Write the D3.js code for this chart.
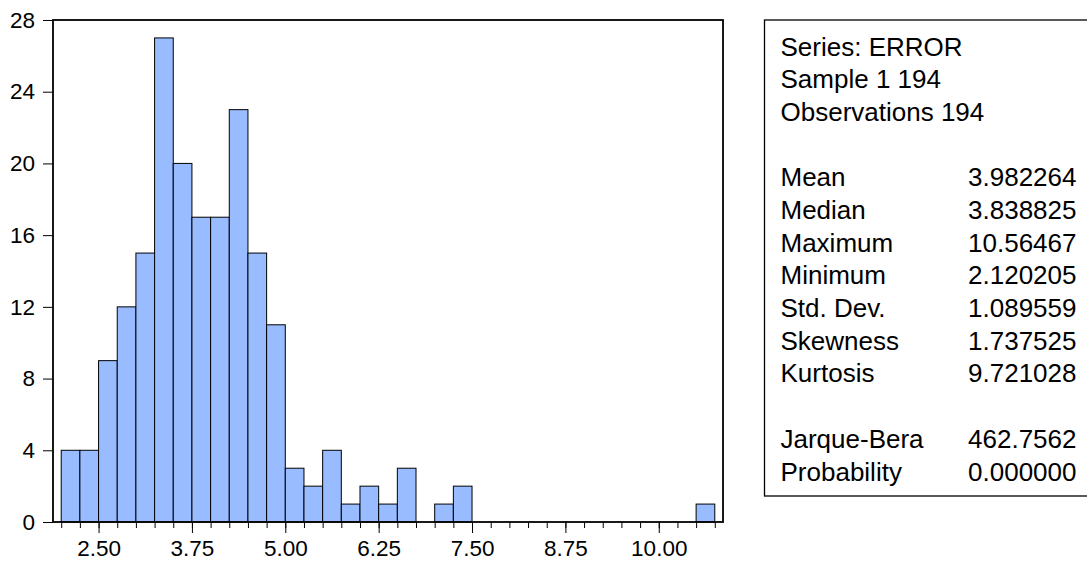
<!DOCTYPE html>
<html>
<head>
<meta charset="utf-8">
<script src="https://cdn.jsdelivr.net/npm/d3@7"></script>
<style>
  html, body { margin: 0; padding: 0; background: #fff; }
  svg { display: block; font-family: "Liberation Sans", Arial, sans-serif; }
</style>
</head>
<body>
<div id="chart"></div>
<script>
// histogram bins (lower edge, width 0.25) and counts
var binLower = [2.00, 2.25, 2.50, 2.75, 3.00, 3.25, 3.50, 3.75, 4.00, 4.25, 4.50, 4.75,
  5.00, 5.25, 5.50, 5.75, 6.00, 6.25, 6.50, 6.75, 7.00, 7.25, 7.50, 7.75, 8.00, 8.25,
  8.50, 8.75, 9.00, 9.25, 9.50, 9.75, 10.00, 10.25, 10.50];
var binCounts = [4, 4, 9, 12, 15, 27, 20, 17, 17, 23, 15, 11,
  3, 2, 4, 1, 2, 1, 3, 0, 1, 2, 0, 0, 0, 0,
  0, 0, 0, 0, 0, 0, 0, 0, 1];
var binWidth = 0.25;

var minorTicks = [2.00, 2.25, 2.50, 2.75, 3.00, 3.25, 3.50, 3.75, 4.00, 4.25, 4.50, 4.75,
  5.00, 5.25, 5.50, 5.75, 6.00, 6.25, 6.50, 6.75, 7.00, 7.25, 7.50, 7.75, 8.00, 8.25,
  8.50, 8.75, 9.00, 9.25, 9.50, 9.75, 10.00, 10.25, 10.50, 10.75];
var majorTicks = [2.50, 3.75, 5.00, 6.25, 7.50, 8.75, 10.00];
var yTicks = [0, 4, 8, 12, 16, 20, 24, 28];

var statLabels = ['Series: ERROR', 'Sample 1 194', 'Observations 194', '',
  'Mean', 'Median', 'Maximum', 'Minimum', 'Std. Dev.', 'Skewness', 'Kurtosis', '',
  'Jarque-Bera', 'Probability'];
var statValues = ['', '', '', '',
  '3.982264', '3.838825', '10.56467', '2.120205', '1.089559', '1.737525', '9.721028', '',
  '462.7562', '0.000000'];

var W = 1087, H = 563;
var plot = { left: 53, top: 20, right: 723, bottom: 522 };

var svg = d3.select('#chart').append('svg')
  .attr('width', W).attr('height', H);

var x = d3.scaleLinear().domain([1.89, 10.86]).range([plot.left, plot.right]);
var y = d3.scaleLinear().domain([0, 28]).range([plot.bottom, plot.top]);

var bins = binLower.map(function (b, i) { return { x0: b, x1: b + binWidth, n: binCounts[i] }; })
  .filter(function (d) { return d.n > 0; });

svg.append('g').selectAll('rect').data(bins).enter().append('rect')
  .attr('x', function (d) { return x(d.x0); })
  .attr('y', function (d) { return y(d.n); })
  .attr('width', function (d) { return x(d.x1) - x(d.x0); })
  .attr('height', function (d) { return y(0) - y(d.n); })
  .attr('fill', '#99bbff')
  .attr('stroke', '#000')
  .attr('stroke-width', 1);

// minor x ticks
svg.append('g')
  .attr('transform', 'translate(0,' + plot.bottom + ')')
  .call(d3.axisBottom(x).tickValues(minorTicks).tickSize(6).tickSizeOuter(0).tickFormat(''))
  .call(function (g) {
    g.select('.domain').remove();
    g.selectAll('.tick line').attr('stroke', '#000').attr('stroke-width', 1);
  });

// major x ticks + labels
svg.append('g')
  .attr('transform', 'translate(0,' + plot.bottom + ')')
  .call(d3.axisBottom(x).tickValues(majorTicks).tickSize(11).tickPadding(7).tickSizeOuter(0)
    .tickFormat(d3.format('.2f')))
  .call(function (g) {
    g.select('.domain').remove();
    g.selectAll('.tick line').attr('stroke', '#000').attr('stroke-width', 1);
    g.selectAll('text').attr('fill', '#000').style('font-size', '22.5px')
      .style('font-family', '"Liberation Sans", Arial, sans-serif');
  });

// y axis
svg.append('g')
  .attr('transform', 'translate(' + plot.left + ',0)')
  .call(d3.axisLeft(y).tickValues(yTicks).tickSize(10).tickPadding(8).tickSizeOuter(0))
  .call(function (g) {
    g.select('.domain').remove();
    g.selectAll('.tick line').attr('stroke', '#000').attr('stroke-width', 1);
    g.selectAll('text').attr('fill', '#000').style('font-size', '22.5px')
      .style('font-family', '"Liberation Sans", Arial, sans-serif');
  });

// plot frame
svg.append('rect')
  .attr('x', plot.left).attr('y', plot.top)
  .attr('width', plot.right - plot.left).attr('height', plot.bottom - plot.top)
  .attr('fill', 'none').attr('stroke', '#000').attr('stroke-width', 1.8);

// statistics box
var box = { left: 764.5, top: 20, bottom: 496 };
svg.append('rect')
  .attr('x', box.left).attr('y', box.top)
  .attr('width', 340).attr('height', box.bottom - box.top)
  .attr('fill', '#fff').attr('stroke', '#000').attr('stroke-width', 1.3);

var row = d3.scaleLinear().domain([0, 13]).range([55.5, 480.5]);

svg.append('g').selectAll('text').data(statLabels).enter().append('text')
  .attr('x', 780.5)
  .attr('y', function (d, i) { return row(i); })
  .style('font-size', '26px')
  .attr('fill', '#000')
  .text(function (d) { return d; });

svg.append('g').selectAll('text').data(statValues).enter().append('text')
  .attr('x', 1076.5)
  .attr('y', function (d, i) { return row(i); })
  .attr('text-anchor', 'end')
  .style('font-size', '26px')
  .attr('fill', '#000')
  .text(function (d) { return d; });
</script>
</body>
</html>
